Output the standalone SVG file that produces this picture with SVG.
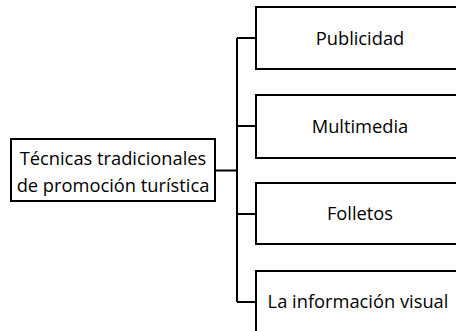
<svg xmlns="http://www.w3.org/2000/svg" width="456" height="331" viewBox="0 0 456 331">
<style>
.box{fill:#fff;stroke:#000;stroke-width:2}
.t{font-family:"Open Sans","Liberation Sans",sans-serif;font-size:18.3px;fill:#000;text-anchor:middle}
.c{fill:none;stroke:#000;stroke-width:2}
</style>
<rect width="456" height="331" fill="#fff"/>
<g id="connectors">
<path class="c" d="M215 170.5H237M237 38V302M237 38H256M237 126H256M237 214H256M237 302H256"/>
</g>
<g id="root">
<rect class="box" x="11" y="139" width="204" height="62"/>
<text class="t" x="113" y="165">Técnicas tradicionales</text>
<text class="t" x="113" y="192">de promoción turística</text>
</g>
<g id="n1">
<rect class="box" x="256" y="7" width="210" height="62"/>
<text class="t" x="360" y="45">Publicidad</text>
</g>
<g id="n2">
<rect class="box" x="256" y="95" width="210" height="63"/>
<text class="t" x="360" y="133">Multimedia</text>
</g>
<g id="n3">
<rect class="box" x="256" y="183" width="210" height="61"/>
<text class="t" x="360" y="220">Folletos</text>
</g>
<g id="n4">
<rect class="box" x="256" y="271" width="210" height="70"/>
<text class="t" x="358" y="308">La información visual</text>
</g>
</svg>
